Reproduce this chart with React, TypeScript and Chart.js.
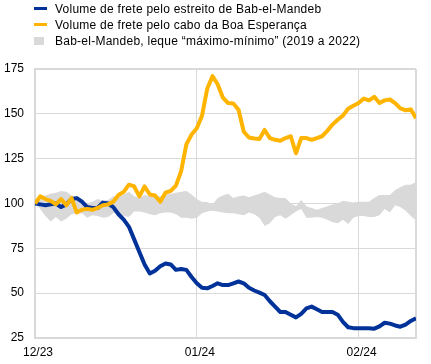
import React, { useEffect, useRef } from "react";
import { Chart, registerables } from "chart.js";

Chart.register(...registerables);

// x = day index since 1 Dec 2023
const xTickDays = [0, 31, 62];
const xTickLabels = ["12/23", "01/24", "02/24"];
const xMaxDay = 73;

const yMin = 25;
const yMax = 175;
const yStep = 25;

const legendLabels = [
  "Volume de frete pelo estreito de Bab-el-Mandeb",
  "Volume de frete pelo cabo da Boa Esperança",
  "Bab-el-Mandeb, leque \u201cmáximo-mínimo\u201d (2019 a 2022)",
];

const babElMandeb = [
  100, 99.5, 99, 99.5, 100, 98, 99.5, 102.5, 103, 101,
  98, 97.5, 97.5, 100.5, 100, 98, 94, 91, 87, 80,
  73, 66, 61, 62.5, 65, 66.5, 66, 63, 63.5, 63,
  59, 55.5, 53, 52.7, 54, 55.5, 54.5, 54.5, 55.5, 56.5,
  55.5, 53, 51.5, 50.3, 49, 45.5, 42.5, 39.5, 39.5, 38,
  36.5, 38.5, 41.5, 42.5, 41, 39.5, 39.5, 39.5, 38, 34,
  31, 30.5, 30.5, 30.5, 30.5, 30.2, 31.5, 33.5, 33, 32,
  31.3, 32.5, 34.5, 36,
];

const boaEsperanca = [
  100, 104, 102.5, 101.5, 99.5, 102.5, 99, 103, 95, 96.5,
  97, 96.5, 97.5, 99, 99.5, 101, 104.7, 106.5, 110.5, 109.5,
  104, 109.5, 105, 104.5, 101, 106, 107, 110, 118, 133,
  138.5, 142, 149, 164, 171, 166.5, 159, 156, 155.8, 152.3,
  140, 136.8, 136.2, 136, 141, 136.5, 135.5, 135, 136.5, 137.5,
  128, 136.5, 136.5, 135.5, 136.5, 137.5, 140.5, 144, 146.7, 149,
  152.8, 154.5, 156, 158.5, 157.5, 159.5, 156, 157.5, 158, 156,
  153, 152, 152.5, 147.5,
];

const rangeMax = [
  100, 102.5, 104.5, 105.5, 106, 107, 106.5, 104.5, 103.5, 101,
  100, 101, 102.5, 101.5, 102, 104, 103.6, 105, 106.5, 104,
  103, 104.7, 104, 103.6, 104, 104.7, 105.5, 106, 106.5, 107,
  105, 102.5, 100.8, 100.8, 99.5, 103, 104.5, 105.5, 103, 104,
  104.5, 103.5, 104.5, 105.5, 106.5, 105, 103.5, 103, 103, 100,
  98.5, 102, 98.5, 97.5, 96.5, 97.5, 98.5, 99.5, 100, 101.5,
  101, 100.5, 101, 101, 101, 103, 104.7, 104.7, 104.7, 107.5,
  109, 110.5, 110.5, 112,
];

const rangeMin = [
  100, 97, 93, 90, 92.5, 90, 91.5, 94, 94.5, 94.5,
  92, 93.5, 93, 92, 92.5, 94.5, 95, 93, 92.5, 95.5,
  95.5, 95, 94, 93.5, 94.5, 95, 95, 94, 92, 92,
  91.5, 92, 94.5, 95.5, 96, 95.5, 95, 94.5, 94.5, 94,
  93.5, 95, 94, 92, 87.5, 89, 92.5, 93.5, 91.5, 93.5,
  95.5, 97, 92, 92, 92.5, 92, 91, 89.5, 89, 91,
  88.5, 92, 93, 93, 92.5, 92.5, 93.5, 97, 95, 99,
  98, 96, 93, 90.5,
];

const BLUE = "#003299";
const ORANGE = "#FFB400";
const GREY = "#D9D9D9";
const GRID = "#D9D9D9";
const FONT = '"Liberation Sans", Arial, sans-serif';

const toPoints = (arr: number[]) => arr.map((v, i) => ({ x: i, y: v }));

export default function App() {
  const canvasRef = useRef<HTMLCanvasElement | null>(null);

  useEffect(() => {
    if (!canvasRef.current) return;
    const chart = new Chart(canvasRef.current, {
      type: "line",
      data: {
        datasets: [
          {
            label: legendLabels[1],
            data: toPoints(boaEsperanca),
            borderColor: ORANGE,
            borderWidth: 4,
            pointRadius: 0,
            tension: 0,
            fill: false,
            borderJoinStyle: "round",
          },
          {
            label: legendLabels[0],
            data: toPoints(babElMandeb),
            borderColor: BLUE,
            borderWidth: 4,
            pointRadius: 0,
            tension: 0,
            fill: false,
            borderJoinStyle: "round",
          },
          {
            label: legendLabels[2],
            data: toPoints(rangeMax),
            borderColor: "rgba(0,0,0,0)",
            borderWidth: 0,
            backgroundColor: GREY,
            pointRadius: 0,
            tension: 0,
            fill: "+1",
          },
          {
            label: "min",
            data: toPoints(rangeMin),
            borderColor: "rgba(0,0,0,0)",
            borderWidth: 0,
            pointRadius: 0,
            tension: 0,
            fill: false,
          },
        ],
      },
      options: {
        responsive: false,
        animation: false,
        events: [],
        layout: { padding: { top: 69, right: 15, left: 0, bottom: 0 } },
        plugins: {
          legend: { display: false },
          tooltip: { enabled: false },
        },
        scales: {
          x: {
            type: "linear",
            min: 0,
            max: xMaxDay,
            afterBuildTicks: (scale: any) => {
              scale.ticks = [...xTickDays, xMaxDay].map((v) => ({ value: v }));
            },
            afterFit: (scale: any) => {
              scale.height = 26;
            },
            grid: {
              color: GRID,
              lineWidth: (ctx: any) => (ctx.tick && ctx.tick.value === xMaxDay ? 2 : 1),
              drawTicks: false,
            },
            border: { color: GRID, width: 2 },
            ticks: {
              autoSkip: false,
              maxRotation: 0,
              padding: 7,
              labelOffset: 3,
              color: "#000",
              font: { family: FONT, size: 12 },
              callback: (value: any) => {
                const i = xTickDays.indexOf(Number(value));
                return i >= 0 ? xTickLabels[i] : "";
              },
            },
          },
          y: {
            min: yMin,
            max: yMax,
            afterFit: (scale: any) => {
              scale.width = 35;
            },
            grid: {
              color: GRID,
              lineWidth: (ctx: any) => (ctx.tick && ctx.tick.value === yMax ? 2 : 1),
              drawTicks: false,
            },
            border: { color: GRID, width: 2 },
            ticks: {
              stepSize: yStep,
              padding: 11,
              color: "#000",
              font: { family: FONT, size: 12 },
            },
          },
        },
      },
    } as any);
    return () => chart.destroy();
  }, []);

  const rowStyle = (top: number): React.CSSProperties => ({
    position: "absolute",
    left: 55,
    top,
    fontSize: 12,
    lineHeight: "14px",
    letterSpacing: "0.25px",
    fontFamily: FONT,
    color: "#000",
    whiteSpace: "nowrap",
  });

  return (
    <div
      style={{
        position: "fixed",
        left: 0,
        top: 0,
        width: 431,
        height: 364,
        background: "#fff",
        overflow: "hidden",
      }}
    >
      <canvas
        ref={canvasRef}
        width={431}
        height={364}
        style={{ position: "absolute", left: 0, top: 0, width: 431, height: 364 }}
      />
      <div style={{ position: "absolute", left: 34, top: 7, width: 13, height: 3, background: BLUE }} />
      <div style={rowStyle(2)}>{legendLabels[0]}</div>
      <div style={{ position: "absolute", left: 34, top: 23, width: 13, height: 3, background: ORANGE }} />
      <div style={rowStyle(18)}>{legendLabels[1]}</div>
      <div style={{ position: "absolute", left: 34, top: 37, width: 10, height: 8, background: GREY }} />
      <div style={rowStyle(34)}>{legendLabels[2]}</div>
    </div>
  );
}
